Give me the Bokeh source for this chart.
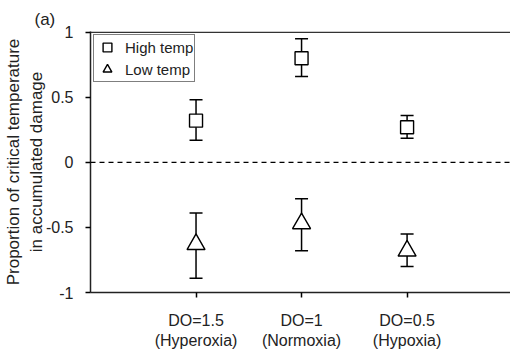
from bokeh.plotting import figure
from bokeh.models import (ColumnDataSource, Whisker, TeeHead, Span, FixedTicker,
                          Legend, LegendItem, Range1d)
from bokeh.embed import file_html
from bokeh.resources import INLINE

categories = ["DO=1.5\n(Hyperoxia)", "DO=1\n(Normoxia)", "DO=0.5\n(Hypoxia)"]
xpos = [1, 2, 3]
high_mean = [0.32, 0.80, 0.27]
high_upper = [0.48, 0.95, 0.36]
high_lower = [0.17, 0.66, 0.185]
low_mean = [-0.63, -0.47, -0.68]
low_upper = [-0.39, -0.28, -0.55]
low_lower = [-0.89, -0.68, -0.80]
yticks = [-1, -0.5, 0, 0.5, 1]
ytick_labels = ["-1", "-0.5", "0", "0.5", "1"]

FONT = "Liberation Sans"

p = figure(width=510, height=351, output_backend="svg", toolbar_location=None,
           x_range=Range1d(0, 3.98), y_range=Range1d(-1.0, 1.005),
           min_border_left=90, min_border_right=0, min_border_top=31, min_border_bottom=57)
p.outline_line_color = None
p.grid.visible = False
p.background_fill_color = "white"

p.title.text = "(a)"
p.title.align = "left"
p.title.offset = -56
p.title.text_font = FONT
p.title.text_font_size = "17px"
p.title.text_font_style = "normal"
p.title.text_color = "#222222"
p.title.standoff = 6

hs = ColumnDataSource(dict(x=xpos, y=high_mean, up=high_upper, lo=high_lower))
ls = ColumnDataSource(dict(x=xpos, y=low_mean, up=low_upper, lo=low_lower))

for src in (hs, ls):
    w = Whisker(source=src, base="x", upper="up", lower="lo",
                line_color="black", line_width=1.5,
                upper_head=TeeHead(size=13, line_color="black", line_width=1.5),
                lower_head=TeeHead(size=13, line_color="black", line_width=1.5))
    p.add_layout(w)

p.add_layout(Span(location=0, dimension="width", line_color="black",
                  line_dash="5 4", line_width=1.3))
p.add_layout(Span(location=1.0, dimension="width", line_color="#333333", line_width=1.5))

r1 = p.scatter("x", "y", source=hs, marker="square", size=13, fill_color="white",
               line_color="black", line_width=1.4)
r2 = p.scatter("x", "y", source=ls, marker="triangle", size=18, fill_color="white",
               line_color="black", line_width=1.4)

legend = Legend(items=[LegendItem(label="High temp", renderers=[r1]),
                       LegendItem(label="Low temp", renderers=[r2])],
                location="top_left")
legend.label_text_font = FONT
legend.label_text_font_size = "15px"
legend.label_text_color = "#222222"
legend.border_line_color = "black"
legend.border_line_width = 1.3
legend.margin = 3
legend.padding = 1
legend.spacing = 0
legend.glyph_width = 24
legend.glyph_height = 22
legend.label_height = 22
legend.label_standoff = 6
legend.background_fill_alpha = 1
p.add_layout(legend)

p.xaxis.ticker = FixedTicker(ticks=xpos)
p.xaxis.major_label_overrides = {x: c for x, c in zip(xpos, categories)}
p.yaxis.ticker = FixedTicker(ticks=yticks)
p.yaxis.major_label_overrides = {t: l for t, l in zip(yticks, ytick_labels)}

for ax in (p.xaxis, p.yaxis):
    ax.minor_tick_line_color = None
    ax.major_tick_in = 0
    ax.major_tick_out = 5
    ax.axis_line_color = "#222222"
    ax.axis_line_width = 1.5
    ax.major_tick_line_width = 1.5
    ax.major_label_text_font = FONT
    ax.major_label_text_font_size = "16px"
    ax.major_label_text_color = "#222222"

p.xaxis.major_label_standoff = 14
p.yaxis.major_label_standoff = 12
p.yaxis.axis_label = "Proportion of critical temperature\nin accumulated damage"
p.yaxis.axis_label_text_font = FONT
p.yaxis.axis_label_text_font_size = "17px"
p.yaxis.axis_label_text_font_style = "normal"
p.yaxis.axis_label_text_color = "#222222"
p.yaxis.axis_label_standoff = -3

open("out.html", "w").write(file_html(p, INLINE))
